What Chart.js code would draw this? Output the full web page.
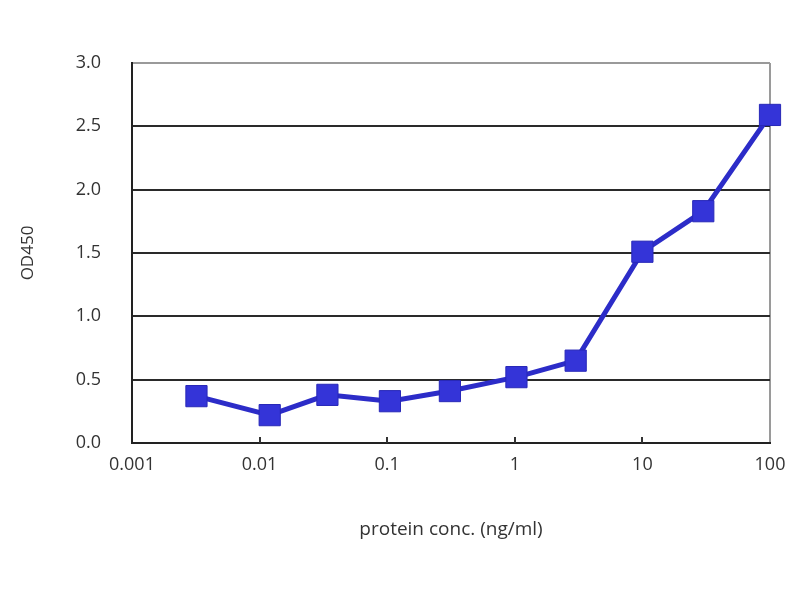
<!DOCTYPE html>
<html>
<head>
<meta charset="utf-8">
<script src="https://cdn.jsdelivr.net/npm/chart.js@4/dist/chart.umd.min.js"></script>
<style>
  html, body { margin: 0; padding: 0; background: #fff; }
  #wrap { width: 800px; height: 600px; }
</style>
</head>
<body>
<div id="wrap"><canvas id="c" width="800" height="600"></canvas></div>
<script>
const concentrations = [0.0032, 0.012, 0.034, 0.105, 0.31, 1.03, 3.0, 10, 30, 100];
const od450 = [0.37, 0.22, 0.38, 0.33, 0.41, 0.52, 0.65, 1.51, 1.83, 2.59];
const xTickValues = [0.001, 0.01, 0.1, 1, 10, 100];
const xTickLabels = ['0.001', '0.01', '0.1', '1', '10', '100'];
const yTickValues = [0, 0.5, 1.0, 1.5, 2.0, 2.5, 3.0];
const xTitle = 'protein conc. (ng/ml)';
const yTitle = 'OD450';

const points = concentrations.map((c, i) => ({ x: c, y: od450[i] }));
const FONT = "'Open Sans', 'DejaVu Sans', sans-serif";
const TEXT = '#333333';

const innerTicks = {
  id: 'innerTicks',
  beforeDatasetsDraw(chart) {
    const ctx = chart.ctx, xs = chart.scales.x, area = chart.chartArea;
    ctx.save();
    ctx.strokeStyle = '#333';
    ctx.lineWidth = 2;
    xTickValues.slice(1, -1).forEach(v => {
      const px = Math.round(xs.getPixelForValue(v));
      ctx.beginPath();
      ctx.moveTo(px, area.bottom);
      ctx.lineTo(px, area.bottom - 6);
      ctx.stroke();
    });
    ctx.restore();
  }
};

new Chart(document.getElementById('c'), {
  type: 'line',
  data: {
    datasets: [{
      data: points,
      borderColor: '#2c2cc8',
      backgroundColor: '#3434d8',
      borderWidth: 5,
      pointStyle: 'rect',
      pointRadius: 15,
      pointHoverRadius: 15,
      pointBorderColor: '#2828b8',
      pointBorderWidth: 1,
      pointBackgroundColor: '#3434d8',
      tension: 0,
      clip: false
    }]
  },
  options: {
    responsive: false,
    animation: false,
    layout: { padding: { left: 0, right: 30, top: 63, bottom: 0 } },
    plugins: { legend: { display: false }, tooltip: { enabled: false } },
    scales: {
      x: {
        type: 'logarithmic',
        min: 0.001,
        max: 100,
        afterBuildTicks(scale) { scale.ticks = xTickValues.map(v => ({ value: v })); },
        afterFit(scale) { scale.height = 157; },
        ticks: {
          autoSkip: false,
          maxRotation: 0,
          padding: 11,
          color: TEXT,
          font: { family: FONT, size: 18 },
          callback(value) {
            const i = xTickValues.indexOf(value);
            return i >= 0 ? xTickLabels[i] : '';
          }
        },
        grid: {
          drawTicks: false,
          color: ctx => (ctx.tick && ctx.tick.value === 100) ? '#9a9a9a' : 'rgba(0,0,0,0)',
          lineWidth: 2
        },
        border: { display: true, color: '#222', width: 2 },
        title: {
          display: true,
          text: xTitle,
          color: TEXT,
          font: { family: FONT, size: 19 },
          padding: { top: 0, bottom: 59 }
        }
      },
      y: {
        type: 'linear',
        min: 0,
        max: 3,
        afterBuildTicks(scale) { scale.ticks = yTickValues.map(v => ({ value: v })); },
        afterFit(scale) { scale.width = 132; },
        ticks: {
          padding: 31,
          color: TEXT,
          font: { family: FONT, size: 18 },
          callback: v => Number(v).toFixed(1)
        },
        grid: {
          drawTicks: false,
          color: ctx => (ctx.tick && ctx.tick.value === 3) ? '#9a9a9a' : '#2a2a2a',
          lineWidth: 2
        },
        border: { display: true, color: '#222', width: 2 },
        title: {
          display: true,
          text: yTitle,
          color: TEXT,
          font: { family: FONT, size: 17 },
          padding: { top: 18, bottom: 0 }
        }
      }
    }
  },
  plugins: [innerTicks]
});
</script>
</body>
</html>
